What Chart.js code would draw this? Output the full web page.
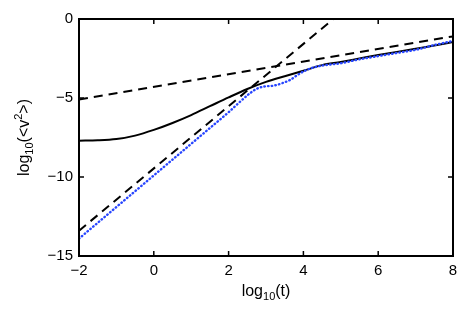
<!DOCTYPE html>
<html>
<head>
<meta charset="utf-8">
<script src="https://cdn.jsdelivr.net/npm/chart.js@4/dist/chart.umd.min.js"></script>
<style>
  html, body { margin: 0; padding: 0; background: #fff; }
  #c { display: block; }
</style>
</head>
<body>
<canvas id="c" width="472" height="316"></canvas>
<script>
// solid curve
const solidT = [-2, -1.5, -1, -0.5, 0, 0.5, 1, 1.5, 2, 2.5, 3, 3.5, 4, 4.5, 5, 5.5, 6, 6.5, 7, 7.5, 8];
const solidV = [-7.70, -7.68, -7.6, -7.38, -7.02, -6.58, -6.08, -5.52, -4.96, -4.43, -3.98, -3.62, -3.28, -2.92, -2.72, -2.5, -2.28, -2.08, -1.88, -1.68, -1.46];

// blue dotted curve
const dotT = [-2, -1, 0, 1, 1.5, 2, 2.3, 2.57, 2.75, 2.93, 3.2, 3.45, 3.64, 3.91, 4.2, 4.5, 5, 5.5, 6, 6.5, 7, 7.5, 8];
const dotV = [-13.9, -11.9, -9.9, -7.9, -6.9, -5.9, -5.25, -4.7, -4.42, -4.28, -4.22, -4.05, -3.86, -3.44, -3.12, -2.95, -2.8, -2.55, -2.35, -2.15, -1.95, -1.65, -1.39];

// dashed asymptotes
const steepT = [-2, 4.8];
const steepV = [-13.4, 0];
const flatT = [-2, 8];
const flatV = [-5.1, -1.1];

const xTicks = [-2, 0, 2, 4, 6, 8];
const yTicks = [-15, -10, -5, 0];

const pts = (xs, ys) => xs.map((x, i) => ({x: x, y: ys[i]}));
const minus = v => String(v).replace('-', '\u2212');
const FONT = '"Liberation Sans", Arial, sans-serif';

// box, inward ticks and the axis titles with sub/superscripts
const frame = {
    id: 'frame',
    afterDraw(chart) {
        const ctx = chart.ctx;
        const a = chart.chartArea;
        const xs = chart.scales.x, ys = chart.scales.y;
        ctx.save();
        ctx.strokeStyle = '#000';
        ctx.lineWidth = 2;
        ctx.strokeRect(a.left, a.top, a.right - a.left, a.bottom - a.top);
        ctx.lineWidth = 1.5;
        ctx.beginPath();
        xTicks.forEach(v => {
            const px = xs.getPixelForValue(v);
            ctx.moveTo(px, a.bottom); ctx.lineTo(px, a.bottom - 5);
            ctx.moveTo(px, a.top); ctx.lineTo(px, a.top + 5);
        });
        yTicks.forEach(v => {
            const py = ys.getPixelForValue(v);
            ctx.moveTo(a.left, py); ctx.lineTo(a.left + 5, py);
            ctx.moveTo(a.right, py); ctx.lineTo(a.right - 5, py);
        });
        ctx.stroke();

        ctx.fillStyle = '#000';
        ctx.textBaseline = 'alphabetic';
        ctx.textAlign = 'left';
        const big = '16px ' + FONT, small = '11px ' + FONT;
        const drawParts = (parts, cx, cy) => {
            let w = 0;
            parts.forEach(p => { ctx.font = p[1]; w += ctx.measureText(p[0]).width; });
            let x = cx - w / 2;
            parts.forEach(p => {
                ctx.font = p[1];
                ctx.fillText(p[0], x, cy + p[2]);
                x += ctx.measureText(p[0]).width;
            });
        };
        drawParts([['log', big, 0], ['10', small, 4], ['(t)', big, 0]], (a.left + a.right) / 2, 296);
        ctx.save();
        ctx.translate(29, (a.top + a.bottom) / 2);
        ctx.rotate(-Math.PI / 2);
        drawParts([['log', big, 0], ['10', small, 4], ['(<v', big, 0], ['2', small, -7], ['>)', big, 0]], 0, 0);
        ctx.restore();
        ctx.restore();
    }
};

new Chart(document.getElementById('c'), {
    type: 'scatter',
    data: {
        datasets: [
            {data: pts(flatT, flatV), showLine: true, borderColor: '#000', borderWidth: 2, borderDash: [9, 6], pointRadius: 0},
            {data: pts(steepT, steepV), showLine: true, borderColor: '#000', borderWidth: 2, borderDash: [9, 6], pointRadius: 0},
            {data: pts(dotT, dotV), showLine: true, borderColor: 'rgb(40,70,255)', borderWidth: 2.4, borderDash: [0.5, 3.2], borderCapStyle: 'round', pointRadius: 0, cubicInterpolationMode: 'monotone'},
            {data: pts(solidT, solidV), showLine: true, borderColor: '#000', borderWidth: 2, pointRadius: 0, cubicInterpolationMode: 'monotone'}
        ]
    },
    options: {
        responsive: false,
        animation: false,
        layout: {padding: {top: 19, right: 19, left: 0, bottom: 0}},
        plugins: {legend: {display: false}, tooltip: {enabled: false}},
        scales: {
            x: {
                type: 'linear', min: -2, max: 8,
                afterBuildTicks: s => { s.ticks = xTicks.map(v => ({value: v})); },
                afterFit: s => { s.height = 60; },
                grid: {display: false, drawTicks: false},
                border: {display: false},
                ticks: {padding: 6, color: '#000', font: {size: 15, family: FONT}, callback: minus, maxRotation: 0}
            },
            y: {
                type: 'linear', min: -15, max: 0,
                afterBuildTicks: s => { s.ticks = yTicks.map(v => ({value: v})); },
                afterFit: s => { s.width = 79; },
                grid: {display: false, drawTicks: false},
                border: {display: false},
                ticks: {padding: 6, color: '#000', font: {size: 15, family: FONT}, callback: minus}
            }
        }
    },
    plugins: [frame]
});
</script>
</body>
</html>
